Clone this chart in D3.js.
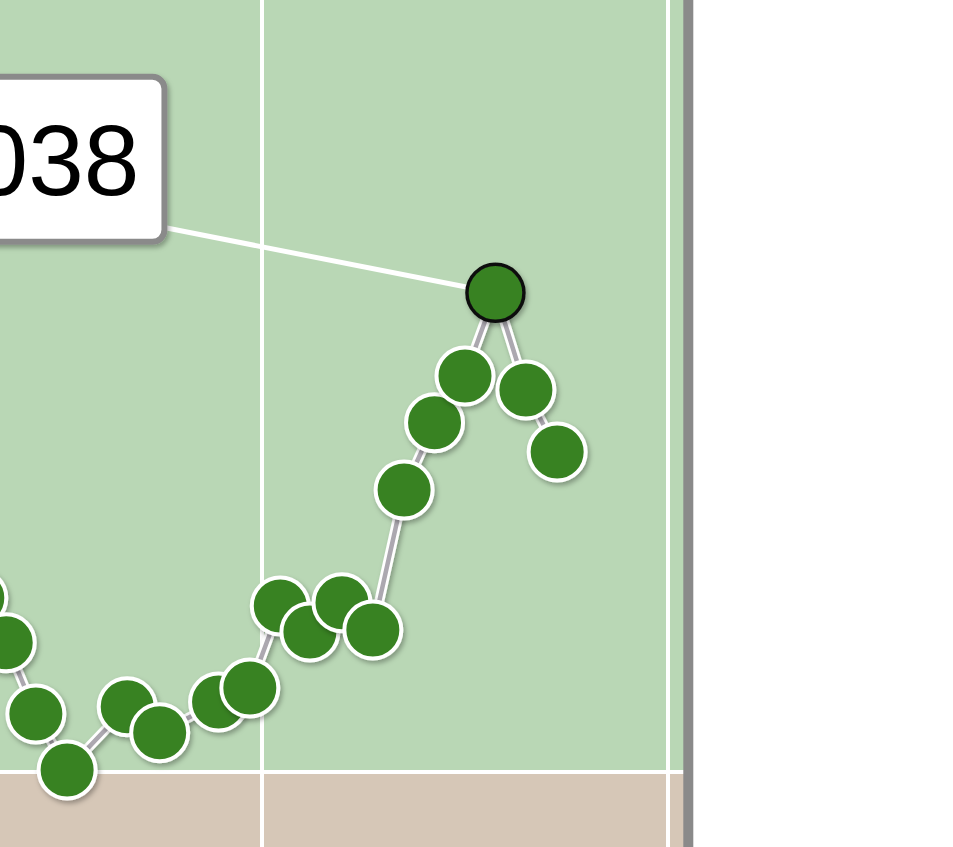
<!DOCTYPE html>
<html>
<head>
<meta charset="utf-8">
<script src="https://cdn.jsdelivr.net/npm/d3@7"></script>
<style>
  html, body { margin: 0; padding: 0; background: #fff; overflow: hidden; }
</style>
</head>
<body>
<div id="chart"></div>
<script>
// data
const xs = [3.0, 3.7, 4.43, 5.2, 6.68, 7.48, 8.93, 9.7, 10.45, 11.18, 11.97, 12.73, 13.5, 14.25, 15.0, 15.75, 16.5, 17.27];
const ys = [4.35, 3.23, 1.45, 0.05, 1.63, 0.98, 1.75, 2.1, 4.15, 3.5, 4.23, 3.55, 7.05, 8.73, 9.9, 11.98, 9.55, 8.0];
const xGrid = [10, 20];
const yGrid = [0];
const highlightIndex = 15;
const highlightLabel = "2038";

const width = 953, height = 847;
const points = xs.map((x, i) => ({ x: x, y: ys[i], i: i }));

const x = d3.scaleLinear().domain([0, 20.5]).range([-144, 688.3]);
const y = d3.scaleLinear().domain([-5, 25]).range([972, -228]);

const svg = d3.select("#chart")
  .append("svg")
  .attr("width", width)
  .attr("height", height);

const defs = svg.append("defs");
defs.append("filter")
  .attr("id", "shadow")
  .attr("x", "-50%").attr("y", "-50%")
  .attr("width", "200%").attr("height", "200%")
  .append("feDropShadow")
  .attr("dx", 2).attr("dy", 3)
  .attr("stdDeviation", 2.5)
  .attr("flood-color", "#000")
  .attr("flood-opacity", 0.3);

// panel background: green above zero, beige below
const [x0, x1] = x.domain();
const [y0, y1] = y.domain();
svg.append("rect")
  .attr("x", x(x0)).attr("y", y(y1))
  .attr("width", x(x1) - x(x0)).attr("height", y(0) - y(y1))
  .attr("fill", "#b9d7b5");
svg.append("rect")
  .attr("x", x(x0)).attr("y", y(0))
  .attr("width", x(x1) - x(x0)).attr("height", y(y0) - y(0))
  .attr("fill", "#d6c7b7");

// grid
svg.selectAll(".vgrid").data(xGrid).join("line")
  .attr("class", "vgrid")
  .attr("x1", d => x(d)).attr("x2", d => x(d))
  .attr("y1", y(y1)).attr("y2", y(y0))
  .attr("stroke", "#fff").attr("stroke-width", 4);
svg.selectAll(".hgrid").data(yGrid).join("line")
  .attr("class", "hgrid")
  .attr("x1", x(x0)).attr("x2", x(x1))
  .attr("y1", d => y(d)).attr("y2", d => y(d))
  .attr("stroke", "#fff").attr("stroke-width", 4);

// panel border
svg.append("rect")
  .attr("x", x(x0)).attr("y", y(y1))
  .attr("width", x(x1) - x(x0)).attr("height", y(y0) - y(y1))
  .attr("fill", "none")
  .attr("stroke", "#8a8a8a").attr("stroke-width", 10);

// connecting line
const line = d3.line().x(d => x(d.x)).y(d => y(d.y));
svg.append("path")
  .datum(points)
  .attr("d", line)
  .attr("fill", "none")
  .attr("stroke", "#fff").attr("stroke-width", 10)
  .attr("stroke-linejoin", "round")
  .attr("filter", "url(#shadow)");
svg.append("path")
  .datum(points)
  .attr("d", line)
  .attr("fill", "none")
  .attr("stroke", "#aca8b0").attr("stroke-width", 4.5)
  .attr("stroke-linejoin", "round");

// annotation leader line + box
const hp = points[highlightIndex];
const hx = x(hp.x), hy = y(hp.y);
const startX = hx - 335, startY = hy - 66;
svg.append("line")
  .attr("x1", startX).attr("y1", startY)
  .attr("x2", hx).attr("y2", hy)
  .attr("stroke", "#fff").attr("stroke-width", 5);

const box = svg.append("g");
const boxRight = startX + 4, boxBottom = startY + 15;
const boxW = 276, boxH = 165;
box.append("rect")
  .attr("x", boxRight - boxW).attr("y", boxBottom - boxH)
  .attr("width", boxW).attr("height", boxH)
  .attr("rx", 12)
  .attr("fill", "#fff")
  .attr("stroke", "#8a8a8a").attr("stroke-width", 6)
  .attr("filter", "url(#shadow)");
box.append("text")
  .attr("x", boxRight - 25).attr("y", boxBottom - 47)
  .attr("text-anchor", "end")
  .style("font-family", "'Liberation Sans', Arial, sans-serif")
  .style("font-size", "100px")
  .attr("fill", "#000")
  .text(highlightLabel);

// points
svg.selectAll(".pt").data(points).join("circle")
  .attr("class", "pt")
  .attr("cx", d => x(d.x)).attr("cy", d => y(d.y))
  .attr("r", 28.5)
  .attr("fill", "#388222")
  .attr("stroke", d => d.i === highlightIndex ? "#111" : "#fff")
  .attr("stroke-width", d => d.i === highlightIndex ? 3.5 : 4)
  .attr("filter", "url(#shadow)");
</script>
</body>
</html>
